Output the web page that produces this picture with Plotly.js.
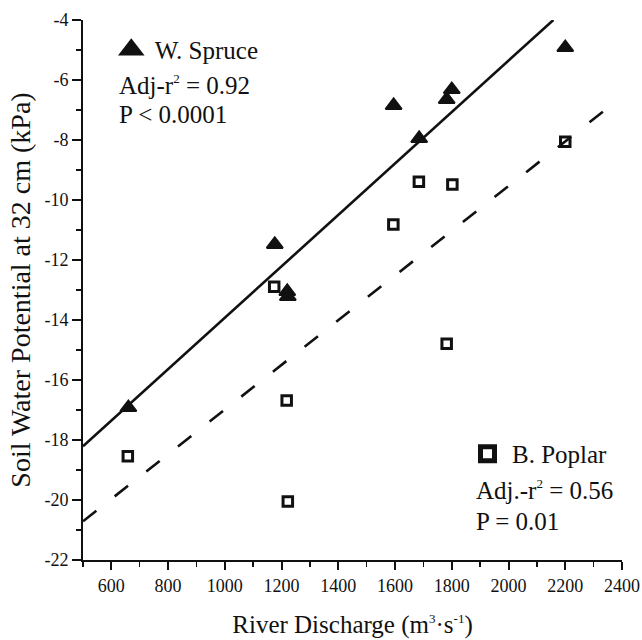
<!DOCTYPE html>
<html>
<head>
<meta charset="utf-8">
<script src="https://cdn.plot.ly/plotly-3.0.1.min.js"></script>
<style>
  html, body { margin: 0; padding: 0; background: #ffffff; }
  #chart { width: 642px; height: 640px; }
</style>
</head>
<body>
<div id="chart"></div>
<script>
// River discharge (m3/s) and soil water potential at 32 cm (kPa)
var spruceX = [660, 1176, 1220, 1222, 1595, 1800, 1782, 1685, 2200];
var spruceY = [-16.92, -11.48, -13.05, -13.22, -6.85, -6.32, -6.65, -7.95, -4.92];

var poplarX = [658, 1174, 1218, 1222, 1594, 1802, 1782, 1684, 2200];
var poplarY = [-18.54, -12.89, -16.68, -20.05, -10.82, -9.48, -14.79, -9.39, -8.06];

// Regression lines (end points)
var spruceFitX = [500, 2158];
var spruceFitY = [-18.21, -4.0];
var poplarFitX = [500, 2335];
var poplarFitY = [-20.71, -7.04];

// Tick labels
var yTickVals = [-4, -6, -8, -10, -12, -14, -16, -18, -20, -22];
var yTickText = ["-4", "-6", "-8", "-10", "-12", "-14", "-16", "-18", "-20", "-22"];
var xTickVals = [600, 800, 1000, 1200, 1400, 1600, 1800, 2000, 2200, 2400];
var xTickText = ["600", "800", "1000", "1200", "1400", "1600", "1800", "2000", "2200", "2400"];

var FONT = "Liberation Serif, Times New Roman, serif";
var INK = "#111111";

var traces = [
  {
    x: spruceX, y: spruceY, type: "scatter", mode: "markers", name: "W. Spruce",
    showlegend: false,
    marker: { symbol: "triangle-up", size: 14, color: INK, line: { color: INK, width: 2 } },
    cliponaxis: false
  },
  {
    x: poplarX, y: poplarY, type: "scatter", mode: "markers", name: "B. Poplar",
    showlegend: false,
    marker: { symbol: "square", size: 9.5, color: "#ffffff", line: { color: INK, width: 3 } },
    cliponaxis: false
  },
  {
    x: spruceFitX, y: spruceFitY, type: "scatter", mode: "lines", showlegend: false,
    line: { color: INK, width: 2.6 }, hoverinfo: "skip"
  },
  {
    x: poplarFitX, y: poplarFitY, type: "scatter", mode: "lines", showlegend: false,
    line: { color: INK, width: 2.6, dash: "17px,23.3px" }, hoverinfo: "skip"
  },
  // legend keys (no data of their own)
  {
    x: [null], y: [null], type: "scatter", mode: "markers", name: "W. Spruce",
    legend: "legend",
    marker: { symbol: "triangle-up", size: 16, color: INK, line: { color: INK, width: 4 } }
  },
  {
    x: [null], y: [null], type: "scatter", mode: "markers", name: "B. Poplar",
    legend: "legend2",
    marker: { symbol: "square", size: 14, color: "#ffffff", line: { color: INK, width: 5 } }
  }
];

var layout = {
  width: 642, height: 640,
  paper_bgcolor: "#ffffff", plot_bgcolor: "#ffffff",
  margin: { l: 83, r: 20, t: 20, b: 80 },
  font: { family: FONT, color: INK },
  xaxis: {
    range: [500, 2400],
    tickmode: "array", tickvals: xTickVals, ticktext: xTickText,
    ticks: "outside", ticklen: 8, tickwidth: 2, tickcolor: INK,
    minor: { tickmode: "linear", tick0: 500, dtick: 100, ticks: "outside", ticklen: 5, tickwidth: 1.5, tickcolor: INK, showgrid: false },
    showline: true, linecolor: INK, linewidth: 2,
    showgrid: false, zeroline: false,
    tickfont: { family: FONT, size: 18, color: INK },
    title: { text: "River Discharge (m<sup><span style=\"font-size:13px\">3</span></sup>\u00b7s<sup><span style=\"font-size:13px\">-1</span></sup>)", font: { family: FONT, size: 25, color: INK }, standoff: 21 }
  },
  yaxis: {
    range: [-22, -4],
    tickmode: "array", tickvals: yTickVals, ticktext: yTickText,
    ticks: "outside", ticklen: 9, tickwidth: 2, tickcolor: INK,
    minor: { tickmode: "linear", tick0: -21, dtick: 2, ticks: "outside", ticklen: 5, tickwidth: 1.5, tickcolor: INK, showgrid: false },
    showline: true, linecolor: INK, linewidth: 2,
    showgrid: false, zeroline: false,
    tickfont: { family: FONT, size: 18, color: INK },
    title: { text: "Soil Water Potential at 32 cm (kPa)", font: { family: FONT, size: 28, color: INK }, standoff: 6 }
  },
  showlegend: true,
  legend: {
    x: 0.046, y: 0.945, xanchor: "left", yanchor: "middle",
    bgcolor: "rgba(0,0,0,0)", borderwidth: 0,
    font: { family: FONT, size: 25, color: INK },
    itemsizing: "trace", itemwidth: 37
  },
  legend2: {
    x: 0.705, y: 0.1965, xanchor: "left", yanchor: "middle",
    bgcolor: "rgba(0,0,0,0)", borderwidth: 0,
    font: { family: FONT, size: 25, color: INK },
    itemsizing: "trace", itemwidth: 39
  },
  annotations: [
    { xref: "paper", yref: "paper", x: 0.064, y: 0.8805, xanchor: "left", yanchor: "middle", showarrow: false,
      text: "Adj-r<sup><span style=\"font-size:13px\">2</span></sup> = 0.92", font: { family: FONT, size: 25, color: INK } },
    { xref: "paper", yref: "paper", x: 0.064, y: 0.8258, xanchor: "left", yanchor: "middle", showarrow: false,
      text: "P &lt; 0.0001", font: { family: FONT, size: 25, color: INK } },
    { xref: "paper", yref: "paper", x: 0.7256, y: 0.1288, xanchor: "left", yanchor: "middle", showarrow: false,
      text: "Adj.-r<sup><span style=\"font-size:13px\">2</span></sup> = 0.56", font: { family: FONT, size: 25, color: INK } },
    { xref: "paper", yref: "paper", x: 0.7256, y: 0.0704, xanchor: "left", yanchor: "middle", showarrow: false,
      text: "P = 0.01", font: { family: FONT, size: 25, color: INK } }
  ]
};

Plotly.newPlot("chart", traces, layout, { displayModeBar: false, staticPlot: true });
</script>
</body>
</html>
